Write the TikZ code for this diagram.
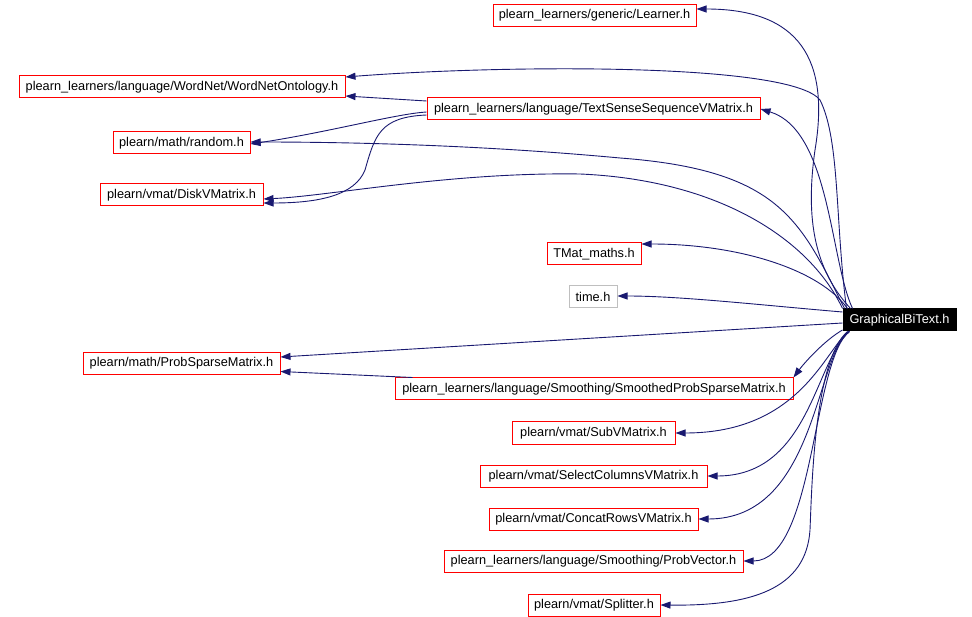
\documentclass[tikz,border=0pt]{standalone}
\usepackage{fontspec}
\setmainfont{Liberation Sans}
\usetikzlibrary{arrows.meta}
\definecolor{edgeblue}{HTML}{191970}
\definecolor{boxred}{HTML}{FF0000}
\definecolor{boxgray}{HTML}{BFBFBF}
\tikzset{
  hbox/.style={draw=boxred, line width=1pt, rectangle, inner sep=0pt, minimum height=22pt,
    font=\fontsize{12.75}{15}\selectfont, text=black},
  hgray/.style={hbox, draw=boxgray},
  hmain/.style={hbox, draw=black, fill=black, text=white},
  dep/.style={draw=edgeblue, line width=0.9pt, -{Triangle[length=10pt,width=7pt]}, edgeblue}
}
\begin{document}
\begin{tikzpicture}[x=1pt,y=-1pt]
\useasboundingbox (0,0) rectangle (972,617);
% nodes
\node[hbox, minimum width=203pt] (learner) at (594.5,15.5) {plearn\_learners/generic/Learner.h};
\node[hbox, minimum width=326pt] (wordnet) at (182,87) {plearn\_learners/language/WordNet/WordNetOntology.h};
\node[hbox, minimum width=333pt] (tssvm) at (593.5,109) {plearn\_learners/language/TextSenseSequenceVMatrix.h};
\node[hbox, minimum width=137pt] (random) at (181.5,143) {plearn/math/random.h};
\node[hbox, minimum width=163pt] (disk) at (181.5,195) {plearn/vmat/DiskVMatrix.h};
\node[hbox, minimum width=94pt] (tmat) at (594,254) {TMat\_maths.h};
\node[hgray, minimum width=48pt] (time) at (593,297) {time.h};
\node[hmain, minimum width=113pt] (gbt) at (899.5,320) {GraphicalBiText.h};
\node[hbox, minimum width=197pt] (ps) at (181.5,363.5) {plearn/math/ProbSparseMatrix.h};
\node[hbox, minimum width=398pt] (spsm) at (594,389) {plearn\_learners/language/Smoothing/SmoothedProbSparseMatrix.h};
\node[hbox, minimum width=163pt] (sub) at (593.5,433) {plearn/vmat/SubVMatrix.h};
\node[hbox, minimum width=227pt] (sel) at (593.5,476) {plearn/vmat/SelectColumnsVMatrix.h};
\node[hbox, minimum width=209pt] (concat) at (593.5,519) {plearn/vmat/ConcatRowsVMatrix.h};
\node[hbox, minimum width=299pt] (pvec) at (593.5,561) {plearn\_learners/language/Smoothing/ProbVector.h};
\node[hbox, minimum width=132pt] (split) at (594,605) {plearn/vmat/Splitter.h};
% edges from GraphicalBiText.h
\draw[dep] ([xshift=8pt]gbt.north west) .. controls (815,270) and (805,220) .. (815,150) .. controls (830,60) and (800,9) .. ([yshift=6.5pt]learner.east);
\draw[dep] ([xshift=4pt]gbt.north west) .. controls (835,220) and (840,140) .. (820,100) .. controls (790,62) and (500,65) .. ([yshift=10pt]wordnet.east);
\draw[dep] ([xshift=10pt]gbt.north west) .. controls (830,260) and (830,130) .. (tssvm.east);
\draw[dep] ([xshift=2pt]gbt.north west) .. controls (800,220) and (780,170) .. (620,158) .. controls (480,145) and (350,142) .. ([yshift=1pt]random.east);
\draw[dep] (gbt.north west) .. controls (810,240) and (720,180) .. (580,174) .. controls (450,172) and (330,196) .. ([yshift=-4pt]disk.east);
\draw[dep] ([xshift=5pt]gbt.north west) .. controls (820,270) and (740,244) .. ([yshift=10pt]tmat.east);
\draw[dep] ([yshift=8pt]gbt.west) .. controls (760,305) and (680,296) .. ([yshift=1pt]time.east);
\draw[dep] ([yshift=-3pt]gbt.west) -- ([yshift=6.5pt]ps.east);
\draw[dep] ([yshift=-10pt]gbt.west) .. controls (825,340) and (805,362) .. (spsm.north east);
\draw[dep] ([xshift=6pt]gbt.south west) .. controls (825,350) and (800,433) .. (sub.east);
\draw[dep] ([xshift=7pt]gbt.south west) .. controls (815,360) and (810,476) .. (sel.east);
\draw[dep] ([xshift=6pt]gbt.south west) .. controls (815,360) and (815,519) .. (concat.east);
\draw[dep] ([xshift=7pt]gbt.south west) .. controls (812,360) and (815,561) .. (pvec.east);
\draw[dep] ([xshift=5pt]gbt.south west) .. controls (815,360) and (812,480) .. (810,530) .. controls (806,590) and (750,606) .. (split.east);
% edges from TextSenseSequenceVMatrix.h
\draw[dep] ([yshift=8pt]tssvm.west) -- ([yshift=-9pt]wordnet.east);
\draw[dep] ([yshift=-3pt]tssvm.west) .. controls (395,114) and (330,132) .. ([yshift=-1pt]random.east);
\draw[dep] ([yshift=-6pt]tssvm.west) .. controls (380,117) and (375,135) .. (365,170) .. controls (355,195) and (320,203) .. ([yshift=-8pt]disk.east);
% edge from SmoothedProbSparseMatrix.h
\draw[dep] ([xshift=18pt]spsm.north west) -- ([yshift=-8pt]ps.east);
\end{tikzpicture}
\end{document}
